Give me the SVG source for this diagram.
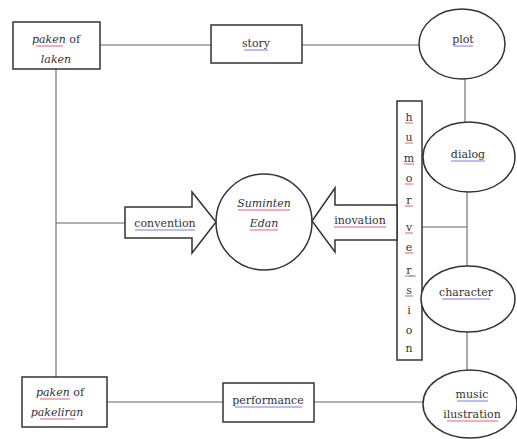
<svg xmlns="http://www.w3.org/2000/svg" width="517" height="439" viewBox="0 0 517 439">
<style>
.bg{fill:#fff}
.box{fill:#fff;stroke:#333;stroke-width:1.5}
.conn{fill:none;stroke:#666;stroke-width:1.1}
.t{font-family:'DejaVu Serif','Liberation Serif',serif;font-size:11px;fill:#333;text-anchor:middle}
.i{font-style:italic}
.r{stroke:#e0607a;stroke-width:1;fill:none}
.b{stroke:#7a7ae8;stroke-width:1;fill:none}
</style>
<rect class="bg" x="0" y="0" width="517" height="439"/>
<g id="connectors">
<line class="conn" x1="100" y1="45" x2="211" y2="45"/>
<line class="conn" x1="302" y1="45" x2="419" y2="45"/>
<line class="conn" x1="56" y1="69" x2="56" y2="377"/>
<line class="conn" x1="56" y1="223" x2="125" y2="223"/>
<line class="conn" x1="107" y1="402" x2="223" y2="402"/>
<line class="conn" x1="314" y1="402" x2="423" y2="402"/>
<line class="conn" x1="465" y1="79" x2="465" y2="123"/>
<line class="conn" x1="467" y1="192" x2="467" y2="267"/>
<line class="conn" x1="422" y1="227" x2="467" y2="227"/>
<line class="conn" x1="467" y1="332" x2="467" y2="370"/>
</g>
<g id="paken-laken">
<rect class="box" x="13" y="22" width="87" height="47"/>
<text class="t" x="56" y="43"><tspan class="i">paken</tspan> of</text>
<text class="t i" x="56" y="63">laken</text>
<line class="r" x1="36" y1="46" x2="63" y2="46"/>
</g>
<g id="story">
<rect class="box" x="211" y="25" width="91" height="38"/>
<text class="t" x="256" y="47">story</text>
<line class="b" x1="244" y1="50" x2="268" y2="50"/>
</g>
<g id="plot">
<ellipse class="box" cx="462" cy="44" rx="43" ry="35"/>
<text class="t" x="463" y="43">plot</text>
<line class="b" x1="453" y1="46" x2="473" y2="46"/>
</g>
<g id="humor-version">
<rect class="box" x="397" y="101" width="25" height="259"/>
<g class="t">
<text x="409" y="121">h</text>
<text x="409" y="141">u</text>
<text x="409" y="162">m</text>
<text x="409" y="182">o</text>
<text x="409" y="204">r</text>
<text x="409" y="231">v</text>
<text x="409" y="251">e</text>
<text x="409" y="274">r</text>
<text x="409" y="294">s</text>
<text x="409" y="314">i</text>
<text x="409" y="334">o</text>
<text x="409" y="352">n</text>
</g>
<g class="r">
<line x1="405" y1="123" x2="413" y2="123"/>
<line x1="405" y1="143" x2="413" y2="143"/>
<line x1="404" y1="164" x2="414" y2="164"/>
<line x1="405" y1="184" x2="413" y2="184"/>
<line x1="405" y1="206" x2="413" y2="206"/>
<line x1="405" y1="233" x2="413" y2="233"/>
<line x1="405" y1="253" x2="413" y2="253"/>
<line x1="405" y1="276" x2="413" y2="276"/>
</g>
<line class="b" x1="409" y1="276" x2="416" y2="276"/>
<line class="b" x1="405" y1="296" x2="413" y2="296"/>
</g>
<g id="dialog">
<ellipse class="box" cx="469" cy="157" rx="46" ry="35"/>
<text class="t" x="468" y="158">dialog</text>
<line class="b" x1="451" y1="161" x2="485" y2="161"/>
</g>
<g id="character">
<ellipse class="box" cx="468" cy="299" rx="47" ry="33"/>
<text class="t" x="466" y="296">character</text>
<line class="b" x1="442" y1="299" x2="490" y2="299"/>
</g>
<g id="music-ilustration">
<ellipse class="box" cx="470" cy="404" rx="47" ry="34"/>
<text class="t" x="472" y="398">music</text>
<text class="t" x="472" y="418">ilustration</text>
<line class="b" x1="457" y1="401" x2="488" y2="401"/>
<line class="r" x1="447" y1="421" x2="498" y2="421"/>
</g>
<g id="performance">
<rect class="box" x="223" y="383" width="91" height="39"/>
<text class="t" x="268" y="404">performance</text>
<line class="b" x1="235" y1="407" x2="302" y2="407"/>
</g>
<g id="paken-pakeliran">
<rect class="box" x="22" y="377" width="85" height="50"/>
<text class="t" x="60" y="396"><tspan class="i">paken</tspan> of</text>
<text class="t i" x="57" y="416">pakeliran</text>
<line class="r" x1="40" y1="399" x2="70" y2="399"/>
<line class="r" x1="40" y1="419" x2="75" y2="419"/>
</g>
<g id="suminten-edan">
<ellipse class="box" cx="264" cy="222" rx="48" ry="48"/>
<text class="t i" x="264" y="207">Suminten</text>
<text class="t i" x="264" y="227">Edan</text>
<line class="r" x1="238" y1="210" x2="290" y2="210"/>
<line class="r" x1="250" y1="230" x2="278" y2="230"/>
</g>
<g id="convention">
<polygon class="box" points="125,207 192,207 192,192 216,222 192,253 192,238 125,238"/>
<text class="t" x="165" y="227">convention</text>
<line class="b" x1="135" y1="230" x2="195" y2="230"/>
</g>
<g id="inovation">
<polygon class="box" points="397,205 335,205 335,188 312,221 335,252 335,240 397,240"/>
<text class="t" x="360" y="224">inovation</text>
<line class="r" x1="334" y1="227" x2="386" y2="227"/>
</g>
</svg>
